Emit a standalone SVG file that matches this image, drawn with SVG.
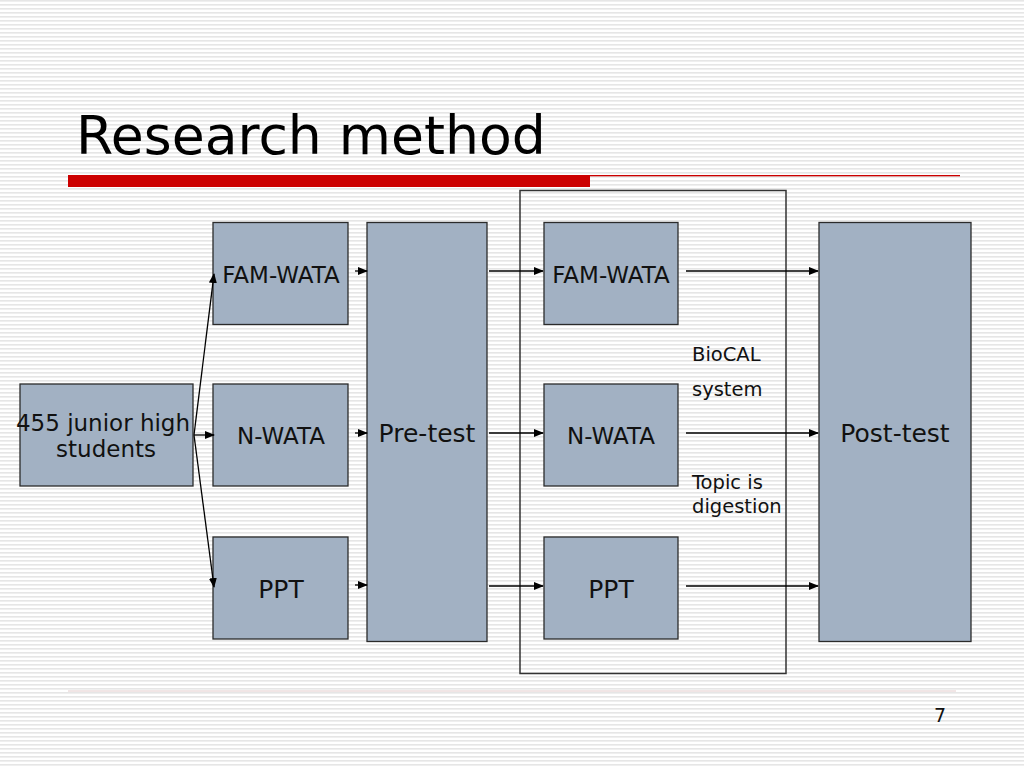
<svg xmlns="http://www.w3.org/2000/svg" width="1024" height="768" viewBox="0 0 1024 768">
<defs>
<pattern id="stripes" width="8" height="4" patternUnits="userSpaceOnUse">
<rect width="8" height="4" fill="#ffffff"/>
<rect y="0" width="8" height="1.6" fill="#e6e6e6"/>
</pattern>
<marker id="ah" markerWidth="10" markerHeight="8" refX="9" refY="4" orient="auto" markerUnits="userSpaceOnUse">
<path d="M0,0 L10,4 L0,8 Z" fill="#000"/>
</marker>
<style>
.box{fill:#a2b1c3;stroke:#2b2b2b;stroke-width:1.3}
.t{font-family:"DejaVu Sans",Verdana,sans-serif;fill:#111;text-anchor:middle}
.s{font-size:23px}
.m{font-size:25px}
.n{font-family:"DejaVu Sans",Verdana,sans-serif;fill:#111;font-size:19.5px}
.c{stroke:#000;stroke-width:1.3;fill:none;marker-end:url(#ah)}
</style>
</defs>
<rect width="1024" height="768" fill="url(#stripes)"/>
<text x="76" y="154" font-family="'DejaVu Sans',Verdana,sans-serif" font-size="53.6" fill="#000">Research method</text>
<rect x="68" y="175" width="522" height="12" fill="#cc0000"/>
<rect x="590" y="175" width="370" height="1.3" fill="#cc0000"/>
<line x1="68" y1="691" x2="956" y2="691" stroke="#e3cccc" stroke-width="1"/>
<text x="940" y="722" font-family="'DejaVu Sans',Verdana,sans-serif" font-size="19" fill="#111" text-anchor="middle">7</text>
<rect id="container" x="520" y="190.5" width="266" height="483" fill="none" stroke="#333" stroke-width="1.5"/>
<g id="students"><rect class="box" x="20" y="384" width="173" height="102"/><text class="t" x="103" y="431" font-size="23">455 junior high</text><text class="t" x="106" y="457" font-size="23">students</text></g>
<g id="fam1"><rect class="box" x="213" y="222.5" width="135" height="102"/><text class="t s" x="281" y="283">FAM-WATA</text></g>
<g id="nwata1"><rect class="box" x="213" y="384" width="135" height="102"/><text class="t s" x="281" y="444">N-WATA</text></g>
<g id="ppt1"><rect class="box" x="213" y="537" width="135" height="102"/><text class="t m" x="281" y="598">PPT</text></g>
<g id="pretest"><rect class="box" x="367" y="222.5" width="120" height="419"/><text class="t m" x="427" y="442">Pre-test</text></g>
<g id="fam2"><rect class="box" x="544" y="222.5" width="134" height="102"/><text class="t s" x="611" y="283">FAM-WATA</text></g>
<g id="nwata2"><rect class="box" x="544" y="384" width="134" height="102"/><text class="t s" x="611" y="444">N-WATA</text></g>
<g id="ppt2"><rect class="box" x="544" y="537" width="134" height="102"/><text class="t m" x="611" y="598">PPT</text></g>
<g id="posttest"><rect class="box" x="819" y="222.5" width="152" height="419"/><text class="t m" x="895" y="442">Post-test</text></g>
<g id="notes">
<text class="n" x="692" y="361">BioCAL</text>
<text class="n" x="692" y="396">system</text>
<text class="n" x="692" y="489">Topic is</text>
<text class="n" x="692" y="513">digestion</text>
</g>
<g id="connectors">
<line class="c" x1="194" y1="435" x2="214" y2="274"/>
<line class="c" x1="194" y1="435" x2="214" y2="435"/>
<line class="c" x1="194" y1="435" x2="214" y2="587"/>
<line class="c" x1="355" y1="271" x2="367" y2="271"/>
<line class="c" x1="355" y1="433" x2="367" y2="433"/>
<line class="c" x1="355" y1="585" x2="367" y2="585"/>
<line class="c" x1="489" y1="271" x2="543" y2="271"/>
<line class="c" x1="489" y1="433" x2="543" y2="433"/>
<line class="c" x1="489" y1="586" x2="543" y2="586"/>
<line class="c" x1="686" y1="271" x2="818" y2="271"/>
<line class="c" x1="686" y1="433" x2="818" y2="433"/>
<line class="c" x1="686" y1="586" x2="818" y2="586"/>
</g>
</svg>
